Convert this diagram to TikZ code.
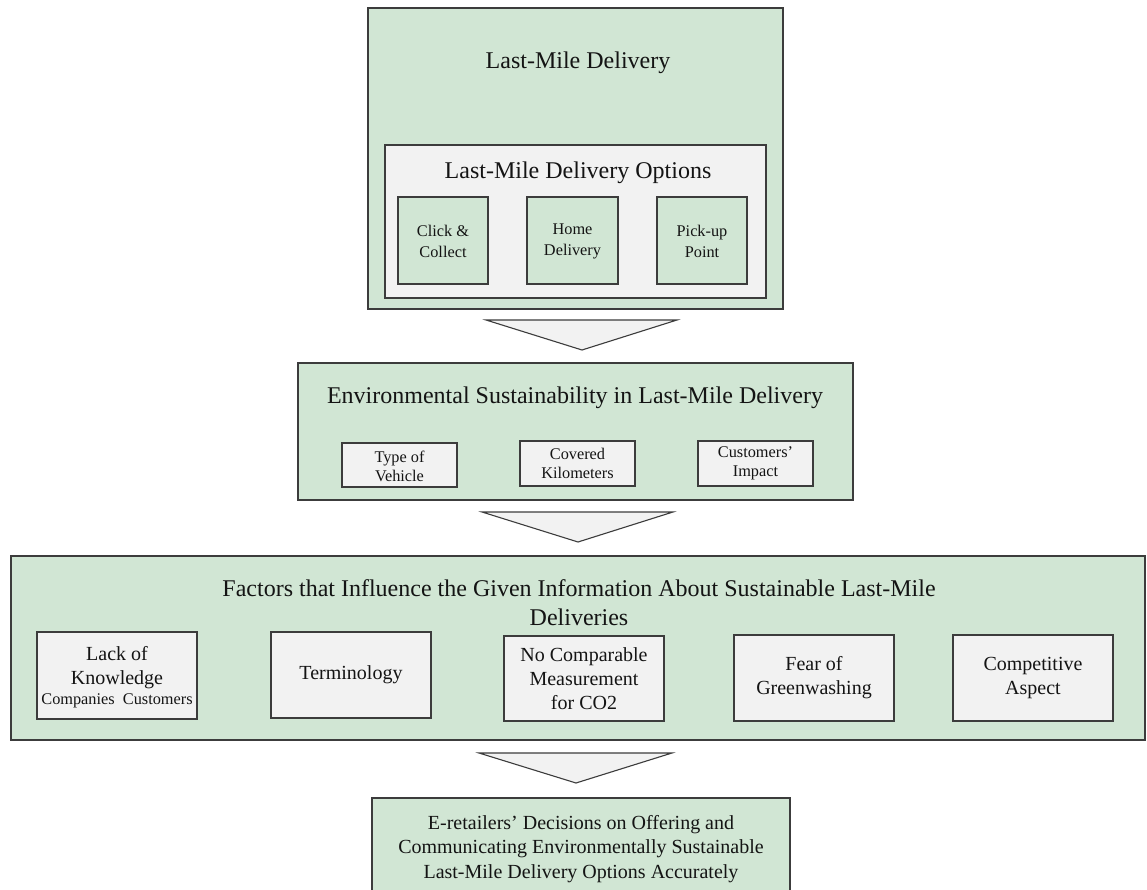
\documentclass[tikz,border=0pt]{standalone}
\usepackage{fontspec}
\setmainfont{Liberation Serif}
\definecolor{panelgreen}{RGB}{209,230,212}
\definecolor{panelgray}{RGB}{242,242,242}
\definecolor{edgegray}{RGB}{60,60,60}
\definecolor{inkdark}{RGB}{20,20,20}
\tikzset{
  box/.style={draw=edgegray, line width=1.4pt, inner sep=0pt, outer sep=0pt},
  greenbox/.style={box, fill=panelgreen},
  graybox/.style={box, fill=panelgray},
  txt/.style={text=inkdark, align=center, inner sep=0pt},
  titletxt/.style={txt, font=\fontsize{24}{29}\selectfont},
  bigtxt/.style={txt, font=\fontsize{20}{24}\selectfont},
  smalltxt/.style={txt, font=\fontsize{16.3}{20}\selectfont},
  arrowtri/.style={draw=edgegray, line width=1.1pt, fill=panelgray, line join=miter},
}
% rectangle from (x1,y1) to (x2,y2): style, x1, y1, x2, y2, name
\newcommand\drawpanel[6]{%
  \node[#1, minimum width={(#4-#2)*1pt}, minimum height={(#5-#3)*1pt}]
    (#6) at ({(#2+#4)/2},{(#3+#5)/2}) {};}
\begin{document}
\begin{tikzpicture}[x=1pt,y=-1pt]
\useasboundingbox (0,0) rectangle (1147,890);
\fill[white] (0,0) rectangle (1147,890);

% --- Last-mile delivery ---
\drawpanel{greenbox}{368}{8}{783}{309}{lmd}
\node[titletxt] (lmdtitle) at (578,63) {Last-Mile Delivery};
\drawpanel{graybox}{385}{145}{766}{298}{opts}
\node[titletxt] (optstitle) at (578,173) {Last-Mile Delivery Options};
\drawpanel{greenbox}{398}{197}{488}{284}{click}
\drawpanel{greenbox}{527}{197}{618}{284}{home}
\drawpanel{greenbox}{657}{197}{747}{284}{pickup}
\node[smalltxt, font=\fontsize{16.3}{21}\selectfont] at ([yshift=-1pt]click.center)  {Click \&\\Collect};
\node[smalltxt, font=\fontsize{16.3}{21}\selectfont] at ([yshift=-1pt]home.center)   {Home\\Delivery};
\node[smalltxt, font=\fontsize{16.3}{21}\selectfont] at ([yshift=-1pt]pickup.center) {Pick-up\\Point};

\draw[arrowtri] (486,320) -- (677,320) -- (582,350) -- cycle;

% --- Environmental sustainability ---
\drawpanel{greenbox}{298}{363}{853}{500}{env}
\node[titletxt] (envtitle) at (575,398) {Environmental Sustainability in Last-Mile Delivery};
\drawpanel{graybox}{342}{443}{457}{487}{vehicle}
\drawpanel{graybox}{520}{441}{635}{486}{km}
\drawpanel{graybox}{698}{441}{813}{486}{impact}
\node[smalltxt, font=\fontsize{16.3}{19}\selectfont] at ([yshift=-1pt]vehicle.center) {Type of\\Vehicle};
\node[smalltxt, font=\fontsize{16.3}{19}\selectfont] at (km) {Covered\\Kilometers};
\node[smalltxt, font=\fontsize{16.3}{19}\selectfont] at (impact) {Customers’\\Impact};

\draw[arrowtri] (482,512) -- (673,512) -- (578,542) -- cycle;

% --- Influencing factors ---
\drawpanel{greenbox}{11}{556}{1145}{740}{factors}
\node[titletxt] (factorstitle) at (579,603) {Factors that Influence the Given Information About Sustainable Last-Mile\\Deliveries};
\drawpanel{graybox}{37}{632}{197}{719}{lack}
\drawpanel{graybox}{271}{632}{431}{718}{term}
\drawpanel{graybox}{504}{636}{664}{721}{nocomp}
\drawpanel{graybox}{734}{635}{894}{721}{fear}
\drawpanel{graybox}{953}{635}{1113}{721}{compet}
\node[bigtxt] (lacktxt) at (117,668) {Lack of\\Knowledge};
\node[smalltxt] at (117,701) {Companies\ \ Customers};
\node[bigtxt] at (term) {Terminology};
\node[bigtxt] at (nocomp) {No Comparable\\Measurement\\for CO2};
\node[bigtxt] at (fear) {Fear of\\Greenwashing};
\node[bigtxt] at (compet) {Competitive\\Aspect};

\draw[arrowtri] (479,753) -- (672,753) -- (576,783) -- cycle;

% --- Decision ---
\drawpanel{greenbox}{372}{798}{790}{910}{decision}
\node[bigtxt, font=\fontsize{20}{24.5}\selectfont] at (581,849) {E-retailers’ Decisions on Offering and\\Communicating Environmentally Sustainable\\Last-Mile Delivery Options Accurately};
\end{tikzpicture}
\end{document}
